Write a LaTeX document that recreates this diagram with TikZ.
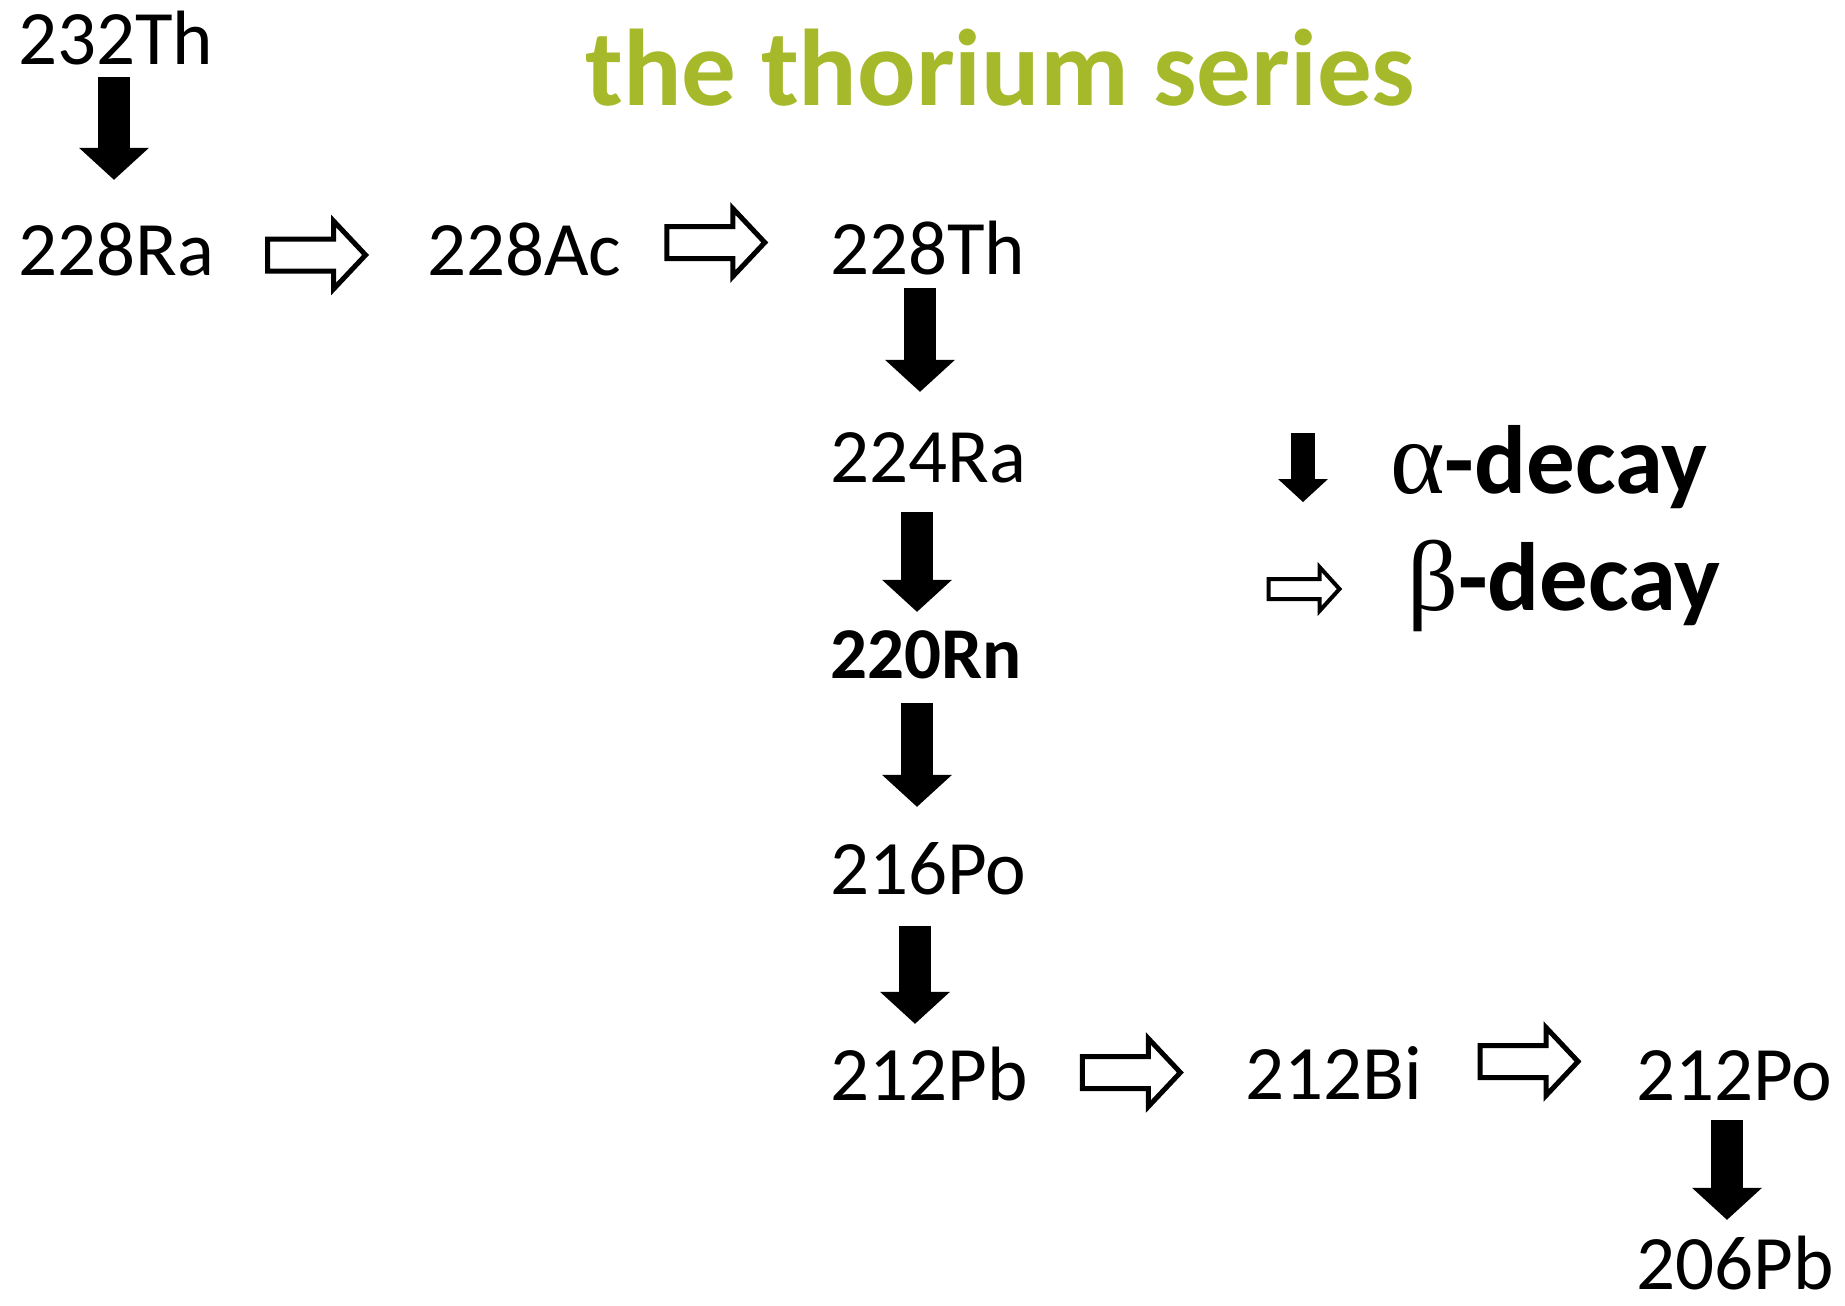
\documentclass[tikz,border=0pt]{standalone}
\usepackage{fontspec}
\setmainfont{Carlito}
\newfontfamily\greekfont{Liberation Serif}
\usetikzlibrary{arrows.meta,calc}
\definecolor{titlegreen}{RGB}{166,185,42}
\begin{document}
\begin{tikzpicture}[x=1pt,y=-1pt,
  nuc/.style={anchor=base west, inner sep=0pt, text height=50pt, text depth=0pt, font=\fontsize{77}{80}\selectfont},
  boldnuc/.style={nuc, font=\fontsize{73}{76}\selectfont\bfseries},
  alphaarrow/.style={line width=32pt, -{Triangle[length=32pt,width=70pt,line width=0pt]}},
  legendtext/.style={anchor=base west, inner sep=0pt, font=\fontsize{97}{99}\selectfont\bfseries},
  betaarrow/.pic={\draw[line width=5pt, line join=miter]
     (-49,-16) -- (17,-16) -- (17,-34) -- (49,0) -- (17,34) -- (17,16) -- (-49,16) -- cycle;},
  betalegend/.pic={\draw[line width=4pt, line join=miter]
     (-35.5,-10) -- (15.5,-10) -- (15.5,-22) -- (35.5,0) -- (15.5,22) -- (15.5,10) -- (-35.5,10) -- cycle;}
]
\useasboundingbox (0,0) rectangle (1845,1306);

% title
\node[anchor=base west, inner sep=0pt, text=titlegreen, font=\fontsize{109}{112}\selectfont\bfseries] (title) at (585,106) {the thorium series};

% nuclides
\node[nuc] (th232) at (18,65) {232Th};
\node[nuc] (ra228) at (18,275) {228Ra};
\node[nuc] (ac228) at (427,275) {228Ac};
\node[nuc] (th228) at (830,274) {228Th};
\node[nuc] (ra224) at (830,482) {224Ra};
\node[boldnuc] (rn220) at (830,678) {220Rn};
\node[nuc] (po216) at (830,894) {216Po};
\node[nuc] (pb212) at (830,1100) {212Pb};
\node[nuc] (bi212) at (1245,1099) {212Bi};
\node[nuc] (po212) at (1636,1100) {212Po};
\node[nuc] (pb206) at (1636,1289) {206Pb};

% alpha decays
\draw[alphaarrow, shorten <=12pt, shorten >=45pt] ([xshift=96pt]th232.south west) -- ([xshift=96pt]ra228.north west);
\draw[alphaarrow, shorten <=14pt, shorten >=40pt] ([xshift=90pt]th228.south west) -- ([xshift=90pt]ra224.north west);
\draw[alphaarrow, shorten <=30pt, shorten >=16pt] ([xshift=87pt]ra224.south west) -- ([xshift=87pt]rn220.north west);
\draw[alphaarrow, shorten <=25pt, shorten >=37pt] ([xshift=87pt]rn220.south west) -- ([xshift=87pt]po216.north west);
\draw[alphaarrow, shorten <=32pt, shorten >=26pt] ([xshift=85pt]po216.south west) -- ([xshift=85pt]pb212.north west);
\draw[alphaarrow, shorten <=20pt, shorten >=19pt] ([xshift=91pt]po212.south west) -- ([xshift=91pt]pb206.north west);

% beta decays
\coordinate (m1) at ($(ra228.east)!0.5!(ac228.west)$);
\coordinate (m2) at ($(ac228.east)!0.5!(th228.west)$);
\coordinate (m3) at ($(pb212.east)!0.5!(bi212.west)$);
\coordinate (m4) at ($(bi212.east)!0.5!(po212.west)$);
\pic at ($(m1)+(-4,5)$) {betaarrow};
\pic at ($(m2)+(-10,-7)$) {betaarrow};
\pic at ($(m3)+(-5,-2)$) {betaarrow};
\pic at ($(m4)+(0,-13)$) {betaarrow};

% legend
\coordinate (la1) at (1303,433);
\coordinate (la2) at (1303,502);
\draw[line width=24pt, -{Triangle[length=23pt,width=50pt,line width=0pt]}] (la1) -- (la2);
\node[legendtext] (alab) at (1390,493) {{\greekfont\mdseries\fontsize{104}{106}\selectfont α}-decay};
\coordinate (lb) at (1304,589);
\pic at (lb) {betalegend};
\node[legendtext] (blab) at (1407,610) {{\greekfont\mdseries\fontsize{100}{102}\selectfont β}-decay};
\end{tikzpicture}
\end{document}
